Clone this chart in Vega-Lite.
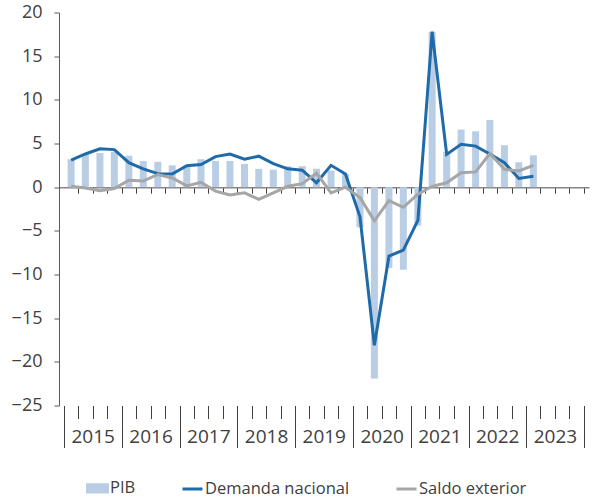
{
  "$schema": "https://vega.github.io/schema/vega-lite/v6.json",
  "width": 530,
  "height": 393,
  "autosize": {"type": "none"},
  "padding": {"left": 59, "top": 12.5, "right": 11, "bottom": 92.5},
  "config": {"view": {"stroke": null}, "font": "Open Sans", "axis": {"grid": false}},
  "data": {"values": [
    {"fecha": "2015-02-15", "PIB": 3.2, "Demanda nacional": 3.1, "Saldo exterior": 0.1},
    {"fecha": "2015-05-16", "PIB": 3.75, "Demanda nacional": 3.8, "Saldo exterior": -0.1},
    {"fecha": "2015-08-16", "PIB": 3.9, "Demanda nacional": 4.4, "Saldo exterior": -0.4},
    {"fecha": "2015-11-15", "PIB": 4.05, "Demanda nacional": 4.3, "Saldo exterior": -0.15},
    {"fecha": "2016-02-15", "PIB": 3.6, "Demanda nacional": 2.8, "Saldo exterior": 0.8},
    {"fecha": "2016-05-16", "PIB": 3.0, "Demanda nacional": 2.1, "Saldo exterior": 0.7},
    {"fecha": "2016-08-16", "PIB": 2.9, "Demanda nacional": 1.55, "Saldo exterior": 1.45},
    {"fecha": "2016-11-15", "PIB": 2.5, "Demanda nacional": 1.5, "Saldo exterior": 1.05},
    {"fecha": "2017-02-15", "PIB": 2.5, "Demanda nacional": 2.45, "Saldo exterior": 0.15},
    {"fecha": "2017-05-16", "PIB": 3.2, "Demanda nacional": 2.6, "Saldo exterior": 0.55},
    {"fecha": "2017-08-16", "PIB": 3.0, "Demanda nacional": 3.5, "Saldo exterior": -0.45},
    {"fecha": "2017-11-15", "PIB": 3.0, "Demanda nacional": 3.8, "Saldo exterior": -0.9},
    {"fecha": "2018-02-15", "PIB": 2.65, "Demanda nacional": 3.2, "Saldo exterior": -0.65},
    {"fecha": "2018-05-16", "PIB": 2.1, "Demanda nacional": 3.55, "Saldo exterior": -1.4},
    {"fecha": "2018-08-16", "PIB": 2.0, "Demanda nacional": 2.7, "Saldo exterior": -0.65},
    {"fecha": "2018-11-15", "PIB": 2.4, "Demanda nacional": 2.1, "Saldo exterior": 0.1},
    {"fecha": "2019-02-15", "PIB": 2.4, "Demanda nacional": 1.95, "Saldo exterior": 0.4},
    {"fecha": "2019-05-16", "PIB": 2.1, "Demanda nacional": 0.5, "Saldo exterior": 1.6},
    {"fecha": "2019-08-16", "PIB": 1.9, "Demanda nacional": 2.5, "Saldo exterior": -0.65},
    {"fecha": "2019-11-15", "PIB": 1.5, "Demanda nacional": 1.5, "Saldo exterior": 0.0},
    {"fecha": "2020-02-15", "PIB": -4.6, "Demanda nacional": -3.4, "Saldo exterior": -1.2},
    {"fecha": "2020-05-16", "PIB": -21.9, "Demanda nacional": -18.1, "Saldo exterior": -3.85},
    {"fecha": "2020-08-16", "PIB": -9.25, "Demanda nacional": -7.9, "Saldo exterior": -1.55},
    {"fecha": "2020-11-15", "PIB": -9.45, "Demanda nacional": -7.2, "Saldo exterior": -2.3},
    {"fecha": "2021-02-15", "PIB": -4.4, "Demanda nacional": -3.8, "Saldo exterior": -0.8},
    {"fecha": "2021-05-16", "PIB": 17.8, "Demanda nacional": 17.8, "Saldo exterior": 0.1},
    {"fecha": "2021-08-16", "PIB": 4.05, "Demanda nacional": 3.75, "Saldo exterior": 0.5},
    {"fecha": "2021-11-15", "PIB": 6.6, "Demanda nacional": 4.9, "Saldo exterior": 1.65},
    {"fecha": "2022-02-15", "PIB": 6.4, "Demanda nacional": 4.7, "Saldo exterior": 1.75},
    {"fecha": "2022-05-16", "PIB": 7.7, "Demanda nacional": 3.8, "Saldo exterior": 3.85},
    {"fecha": "2022-08-16", "PIB": 4.8, "Demanda nacional": 2.8, "Saldo exterior": 2.05},
    {"fecha": "2022-11-15", "PIB": 2.85, "Demanda nacional": 1.0, "Saldo exterior": 1.85},
    {"fecha": "2023-02-15", "PIB": 3.65, "Demanda nacional": 1.25, "Saldo exterior": 2.5}
  ]},
  "transform": [{"fold": ["PIB", "Demanda nacional", "Saldo exterior"], "as": ["serie", "valor"]}],
  "layer": [
    {
      "transform": [{"filter": "datum.serie === 'PIB'"}],
      "mark": {"type": "bar", "width": 7},
      "encoding": {
        "x": {
          "field": "fecha", "type": "temporal",
          "scale": {"type": "utc", "domain": [{"year": 2015, "month": 1, "date": 1, "utc": true}, {"year": 2024, "month": 1, "date": 1, "utc": true}]},
          "axis": {
            "orient": "bottom", "title": null, "domain": false,
            "values": [
              {"year": 2015, "month": 1, "date": 1, "utc": true}, {"year": 2015, "month": 4, "date": 1, "utc": true}, {"year": 2015, "month": 7, "date": 1, "utc": true}, {"year": 2015, "month": 10, "date": 1, "utc": true},
              {"year": 2016, "month": 1, "date": 1, "utc": true}, {"year": 2016, "month": 4, "date": 1, "utc": true}, {"year": 2016, "month": 7, "date": 1, "utc": true}, {"year": 2016, "month": 10, "date": 1, "utc": true},
              {"year": 2017, "month": 1, "date": 1, "utc": true}, {"year": 2017, "month": 4, "date": 1, "utc": true}, {"year": 2017, "month": 7, "date": 1, "utc": true}, {"year": 2017, "month": 10, "date": 1, "utc": true},
              {"year": 2018, "month": 1, "date": 1, "utc": true}, {"year": 2018, "month": 4, "date": 1, "utc": true}, {"year": 2018, "month": 7, "date": 1, "utc": true}, {"year": 2018, "month": 10, "date": 1, "utc": true},
              {"year": 2019, "month": 1, "date": 1, "utc": true}, {"year": 2019, "month": 4, "date": 1, "utc": true}, {"year": 2019, "month": 7, "date": 1, "utc": true}, {"year": 2019, "month": 10, "date": 1, "utc": true},
              {"year": 2020, "month": 1, "date": 1, "utc": true}, {"year": 2020, "month": 4, "date": 1, "utc": true}, {"year": 2020, "month": 7, "date": 1, "utc": true}, {"year": 2020, "month": 10, "date": 1, "utc": true},
              {"year": 2021, "month": 1, "date": 1, "utc": true}, {"year": 2021, "month": 4, "date": 1, "utc": true}, {"year": 2021, "month": 7, "date": 1, "utc": true}, {"year": 2021, "month": 10, "date": 1, "utc": true},
              {"year": 2022, "month": 1, "date": 1, "utc": true}, {"year": 2022, "month": 4, "date": 1, "utc": true}, {"year": 2022, "month": 7, "date": 1, "utc": true}, {"year": 2022, "month": 10, "date": 1, "utc": true},
              {"year": 2023, "month": 1, "date": 1, "utc": true}, {"year": 2023, "month": 4, "date": 1, "utc": true}, {"year": 2023, "month": 7, "date": 1, "utc": true}, {"year": 2023, "month": 10, "date": 1, "utc": true},
              {"year": 2024, "month": 1, "date": 1, "utc": true}
            ],
            "tickColor": "#404040", "tickWidth": 1,
            "tickSize": {"condition": {"test": "utcmonth(datum.value) === 0", "value": 42}, "value": 13},
            "labelExpr": "utcmonth(datum.value) === 6 ? utcFormat(datum.value, '%Y') : ''",
            "labelFontSize": 19, "labelColor": "#404040", "labelPadding": 9,
            "labelOverlap": false, "labelFlush": false, "labelBound": false
          }
        },
        "y": {
          "field": "valor", "type": "quantitative",
          "scale": {"domain": [-25, 20], "nice": false, "zero": false},
          "axis": {
            "title": null, "values": [-25, -20, -15, -10, -5, 0, 5, 10, 15, 20],
            "domainColor": "#595959", "tickColor": "#595959", "tickSize": 5,
            "labelFontSize": 18, "labelColor": "#404040", "labelPadding": 12
          }
        },
        "color": {
          "field": "serie", "type": "nominal",
          "scale": {"domain": ["PIB", "Demanda nacional", "Saldo exterior"], "range": ["#b9cde5", "#1f6aa8", "#a6a6a6"]},
          "legend": {
            "orient": "none", "legendX": 27, "legendY": 464, "direction": "horizontal",
            "title": null, "labelFontSize": 16.5, "labelColor": "#404040", "labelLimit": 300,
            "symbolSize": 400, "symbolType": "stroke", "symbolStrokeWidth": 3,
            "columnPadding": 40, "labelOffset": 1,
            "encode": {"symbols": {"update": {
              "shape": {"signal": "datum.value === 'PIB' ? 'M-1,-0.36H1V0.36H-1Z' : 'stroke'"},
              "fill": {"signal": "datum.value === 'PIB' ? '#b9cde5' : 'transparent'"},
              "stroke": {"signal": "datum.value === 'PIB' ? 'transparent' : (datum.value === 'Demanda nacional' ? '#1f6aa8' : '#a6a6a6')"},
              "strokeWidth": {"value": 3}
            }}}
          }
        }
      }
    },
    {
      "transform": [{"filter": "datum.serie !== 'PIB'"}],
      "mark": {"type": "line", "strokeWidth": 3},
      "encoding": {
        "x": {
          "field": "fecha", "type": "temporal",
          "axis": {
            "orient": "bottom", "offset": -218.33, "title": null, "labels": false,
            "domain": true, "domainColor": "#868686", "domainWidth": 1.5,
            "values": [
              {"year": 2015, "month": 4, "date": 1, "utc": true}, {"year": 2015, "month": 7, "date": 1, "utc": true}, {"year": 2015, "month": 10, "date": 1, "utc": true},
              {"year": 2016, "month": 1, "date": 1, "utc": true}, {"year": 2016, "month": 4, "date": 1, "utc": true}, {"year": 2016, "month": 7, "date": 1, "utc": true}, {"year": 2016, "month": 10, "date": 1, "utc": true},
              {"year": 2017, "month": 1, "date": 1, "utc": true}, {"year": 2017, "month": 4, "date": 1, "utc": true}, {"year": 2017, "month": 7, "date": 1, "utc": true}, {"year": 2017, "month": 10, "date": 1, "utc": true},
              {"year": 2018, "month": 1, "date": 1, "utc": true}, {"year": 2018, "month": 4, "date": 1, "utc": true}, {"year": 2018, "month": 7, "date": 1, "utc": true}, {"year": 2018, "month": 10, "date": 1, "utc": true},
              {"year": 2019, "month": 1, "date": 1, "utc": true}, {"year": 2019, "month": 4, "date": 1, "utc": true}, {"year": 2019, "month": 7, "date": 1, "utc": true}, {"year": 2019, "month": 10, "date": 1, "utc": true},
              {"year": 2020, "month": 1, "date": 1, "utc": true}, {"year": 2020, "month": 4, "date": 1, "utc": true}, {"year": 2020, "month": 7, "date": 1, "utc": true}, {"year": 2020, "month": 10, "date": 1, "utc": true},
              {"year": 2021, "month": 1, "date": 1, "utc": true}, {"year": 2021, "month": 4, "date": 1, "utc": true}, {"year": 2021, "month": 7, "date": 1, "utc": true}, {"year": 2021, "month": 10, "date": 1, "utc": true},
              {"year": 2022, "month": 1, "date": 1, "utc": true}, {"year": 2022, "month": 4, "date": 1, "utc": true}, {"year": 2022, "month": 7, "date": 1, "utc": true}, {"year": 2022, "month": 10, "date": 1, "utc": true},
              {"year": 2023, "month": 1, "date": 1, "utc": true}, {"year": 2023, "month": 4, "date": 1, "utc": true}, {"year": 2023, "month": 7, "date": 1, "utc": true}, {"year": 2023, "month": 10, "date": 1, "utc": true},
              {"year": 2024, "month": 1, "date": 1, "utc": true}
            ],
            "tickColor": "#404040", "tickSize": 6
          }
        },
        "y": {"field": "valor", "type": "quantitative"},
        "color": {"field": "serie", "type": "nominal"}
      }
    }
  ],
  "resolve": {"axis": {"x": "independent"}}
}
